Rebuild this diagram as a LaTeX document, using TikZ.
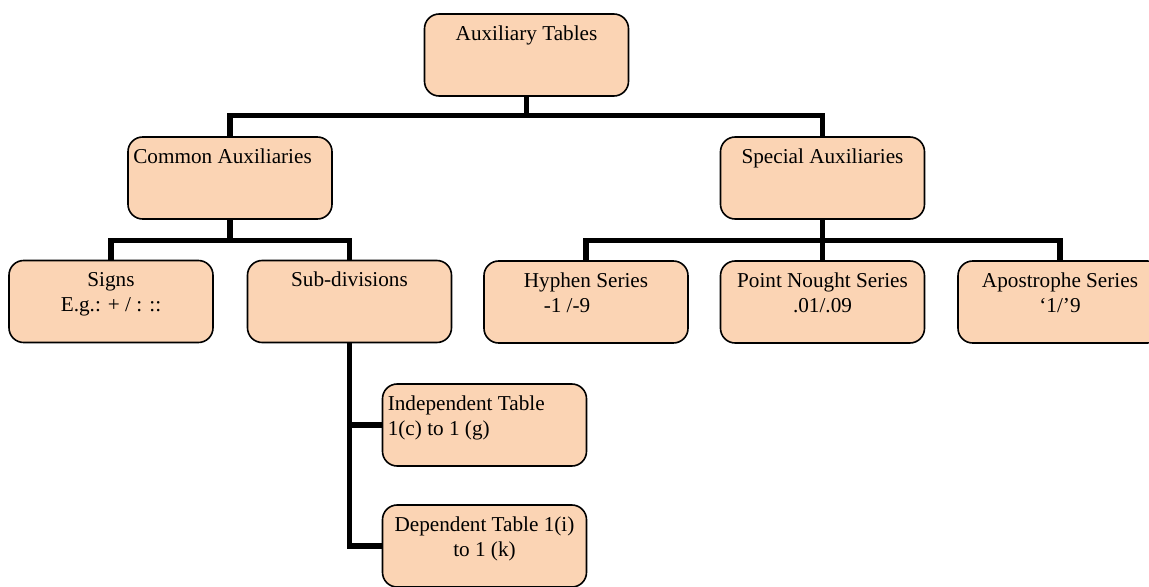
\documentclass[tikz,border=0pt]{standalone}
\usepackage{fontspec}
\setmainfont{Liberation Serif}
\usepackage{tikz}

\definecolor{peach}{HTML}{FBD4B4}
\newcommand{\boxtext}[2][\centering]{\parbox[t][51.5pt][t]{145pt}{#1\rule{0pt}{14.6pt}#2}}

\begin{document}
\begin{tikzpicture}[x=0.75pt,y=-0.75pt,
  aux box/.style={draw,fill=peach,rounded corners=11pt,line width=1.2pt,
    minimum width=153pt,minimum height=61.5pt,inner xsep=4pt,inner ysep=5pt,
    font=\fontsize{15.9pt}{18.75pt}\selectfont},
  link/.style={line width=4pt}]
\clip (0,0) rectangle (1149,586);
% boxes
\node[aux box] (root) at (526.5,55) {\boxtext{Auxiliary Tables}};
\node[aux box] (common) at (230,178) {\boxtext[\raggedright]{Common Auxiliaries}};
\node[aux box] (special) at (822.5,178) {\boxtext{Special Auxiliaries}};
\node[aux box] (signs) at (111,301.5) {\boxtext{Signs\\E.g.: + / : ::}};
\node[aux box] (subdiv) at (349.5,301.5) {\boxtext{Sub-divisions}};
\node[aux box] (hyphen) at (586,302) {\boxtext{Hyphen Series\\-1 /-9\hspace*{28.5pt}}};
\node[aux box] (nought) at (822.5,302) {\boxtext{Point Nought Series\\.01/.09}};
\node[aux box] (apos) at (1060,302) {\boxtext{Apostrophe Series\\‘1/’9}};
\node[aux box] (indep) at (484.5,425) {\boxtext[\raggedright]{Independent Table\\1(c) to 1 (g)}};
\node[aux box] (dep) at (484.5,546) {\boxtext{Dependent Table 1(i)\\to 1 (k)}};
% connectors
\draw[link] (root.south) -- ++(0,19) -| (common.north);
\draw[link] (root.south) ++(0,19) -| (special.north);
\draw[link] (common.south) -- ++(0,21) -| (signs.north);
\draw[link] (common.south) ++(0,21) -| (subdiv.north);
\draw[link] (special.south) -- ++(0,21) -| (hyphen.north);
\draw[link] (special.south) ++(0,21) -| (apos.north);
\draw[link] (special.south) -- (nought.north);
\draw[link] (subdiv.south) |- (indep.west);
\draw[link] (subdiv.south) |- (dep.west);
\end{tikzpicture}
\end{document}
